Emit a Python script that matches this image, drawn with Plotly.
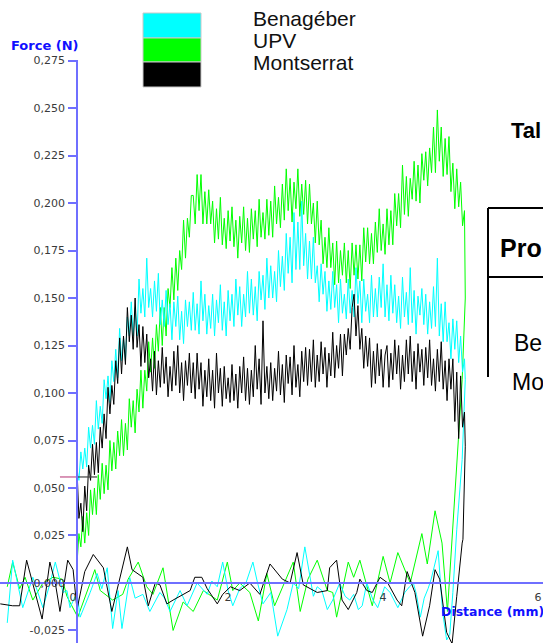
import plotly.graph_objects as go

# ---------------------------------------------------------------
# Penetration test: force (mN) sampled every STEP_MM along the stroke
# ---------------------------------------------------------------
STEP_MM = 0.025

benageber_push_mn = [
    60, 54, 69, 60, 71, 61, 82, 71, 83, 73, 96, 81, 93, 84, 107, 97, 109, 95, 117, 106,
    123, 108, 134, 117, 129, 117, 140, 130, 148, 130, 145, 130, 160, 142, 155, 140, 171, 145, 155, 140,
    159, 143, 163, 136, 149, 135, 154, 136, 147, 128, 148, 135, 151, 128, 143, 126, 149, 135, 148, 133,
    153, 133, 147, 131, 159, 138, 152, 131, 146, 134, 152, 130, 149, 137, 157, 133, 148, 130, 154, 138,
    152, 135, 160, 141, 156, 135, 152, 140, 164, 142, 160, 141, 156, 138, 164, 149, 162, 144, 171, 150,
    167, 150, 164, 148, 175, 156, 172, 154, 184, 163, 182, 158, 195, 165, 190, 165, 201, 167, 184, 160,
    180, 160, 182, 158, 167, 148, 168, 152, 164, 143, 159, 144, 164, 145, 157, 137, 160, 142, 152, 139,
    160, 142, 154, 140, 166, 147, 159, 137, 160, 143, 152, 137, 162, 140, 155, 140, 161, 145, 168, 140,
    157, 138, 162, 142, 157, 137, 151, 134, 161, 140, 153, 136, 166, 137, 154, 131, 151, 141, 155, 136,
    152, 131, 148, 134, 156, 135, 171, 130, 147, 127, 148, 127, 137, 118, 139, 123, 138, 116, 130, 111,
    118,
]

upv_push_mn = [
    10, 26, 19, 35, 21, 37, 25, 49, 36, 50, 36, 57, 44, 63, 47, 62, 49, 75, 59, 74,
    60, 80, 67, 86, 67, 84, 70, 97, 82, 96, 79, 102, 90, 112, 92, 112, 101, 127, 111, 129,
    113, 136, 122, 145, 125, 145, 130, 155, 145, 166, 149, 171, 154, 175, 165, 191, 171, 192, 182, 204,
    204, 189, 215, 196, 215, 189, 206, 189, 207, 189, 201, 179, 197, 181, 203, 178, 192, 176, 196, 180,
    198, 177, 191, 171, 193, 179, 198, 175, 192, 174, 197, 181, 196, 177, 202, 182, 195, 181, 202, 183,
    201, 182, 209, 189, 203, 187, 210, 191, 218, 196, 213, 190, 211, 197, 218, 193, 210, 194, 212, 189,
    210, 189, 200, 179, 201, 178, 191, 168, 182, 166, 187, 166, 179, 157, 180, 158, 175, 162, 179, 158,
    175, 155, 179, 162, 178, 160, 178, 159, 187, 169, 187, 168, 184, 168, 190, 174, 197, 175, 189, 173,
    197, 178, 196, 178, 205, 188, 205, 187, 220, 194, 214, 193, 213, 202, 222, 201, 220, 200, 226, 212,
    227, 209, 229, 216, 240, 216, 249, 222, 240, 214, 234, 215, 235, 206, 221, 197, 218, 198, 211, 188,
    196,
]

montserrat_push_mn = [
    60, 34, 42, 27, 51, 38, 62, 54, 73, 57, 74, 58, 82, 71, 89, 76, 103, 89, 104, 94,
    117, 105, 129, 110, 130, 115, 145, 127, 141, 123, 150, 124, 136, 114, 135, 116, 131, 108, 118, 101,
    122, 99, 117, 103, 124, 105, 119, 98, 114, 101, 122, 104, 125, 100, 116, 96, 117, 104, 121, 100,
    116, 97, 121, 102, 116, 93, 112, 98, 118, 96, 112, 92, 121, 100, 113, 93, 114, 97, 108, 95,
    115, 96, 110, 92, 114, 100, 119, 96, 113, 94, 112, 98, 125, 102, 118, 94, 138, 100, 114, 97,
    116, 96, 113, 101, 122, 99, 115, 95, 120, 105, 119, 99, 125, 103, 115, 98, 122, 106, 124, 104,
    123, 106, 128, 103, 120, 106, 127, 110, 124, 103, 121, 109, 132, 108, 125, 113, 131, 109, 131, 120,
    134, 123, 145, 152, 130, 146, 123, 134, 113, 130, 114, 129, 103, 122, 105, 126, 109, 123, 103, 120,
    125, 103, 121, 107, 128, 110, 125, 102, 120, 106, 128, 110, 130, 106, 122, 102, 126, 111, 123, 104,
    124, 108, 128, 104, 118, 101, 123, 106, 127, 102, 117, 96, 118, 102, 118, 85, 111, 76, 109, 82,
    90,
]

# ---------------------------------------------------------------
# Withdrawal: probe released and travelling back (distance mm, force mN)
# ---------------------------------------------------------------
benageber_back_mm = [
    5.01, 4.97, 4.90, 4.85, 4.81, 4.77, 4.72, 4.66, 4.62, 4.57, 4.53, 4.48, 4.43, 4.38, 4.34,
    4.29, 4.23, 4.18, 4.14, 4.09, 4.04, 3.97, 3.92, 3.88, 3.82, 3.74, 3.68, 3.63, 3.57, 3.52,
    3.46, 3.39, 3.30, 3.23, 3.16, 3.10, 3.05, 2.94, 2.86, 2.79, 2.71, 2.59, 2.50, 2.40, 2.33,
    2.27, 2.18, 2.10, 2.01, 1.95, 1.88, 1.81, 1.74, 1.68, 1.55, 1.42, 1.33, 1.20, 1.13, 1.07,
    0.94, 0.85, 0.75, 0.68, 0.58, 0.53, 0.46, 0.39, 0.32, 0.26, 0.17, 0.10, 0.04, 0.00, -0.09,
    -0.13, -0.18, -0.28, -0.36, -0.44, -0.57, -0.70, -0.83, -0.90,
]
benageber_back_mn = [
    107, 65, 28, -5, -27, -30, -16, 17, 10, 2, -3, -8, -18, -6, 0,
    -2, -5, -10, -13, -9, -5, -2, -8, -13, -9, 0, -12, -14, -6, -9,
    -7, 0, -9, -14, -4, -2, -7, 19, -3, 0, -14, -28, -5, -11, 0,
    11, 0, -3, -12, -4, 11, -2, 1, -6, 0, -12, -4, -15, -8, -5,
    -15, -6, -8, 3, -24, -4, -24, 8, -3, 5, -5, -12, -18, -5, -13,
    -4, -5, 11, -2, -13, 3, -13, 12, -21,
]

upv_back_mm = [
    5.01, 4.97, 4.90, 4.78, 4.71, 4.62, 4.52, 4.45, 4.30, 4.14, 4.04, 3.95, 3.81, 3.65, 3.57,
    3.50, 3.35, 3.30, 3.23, 3.10, 2.98, 2.88, 2.79, 2.71, 2.55, 2.45, 2.34, 2.23, 2.10, 2.01,
    1.94, 1.81, 1.63, 1.50, 1.37, 1.24, 1.11, 0.98, 0.90, 0.79, 0.66, 0.59, 0.46, 0.30, 0.23,
    0.17, 0.01, -0.13, -0.19, -0.31, -0.44, -0.57, -0.67, -0.74, -0.83, -0.90,
]
upv_back_mn = [
    150, 107, 63, -15, 21, 38, 10, 26, 0, 16, 0, 14, -12, 12, 3,
    11, -18, -5, -4, 12, 2, -15, 11, 3, -12, 5, -20, -5, 0, -4,
    11, -9, -4, -15, -10, -25, 8, -6, -2, 11, 2, -6, -9, -4, 7,
    0, -18, -7, 2, 3, 0, -9, 3, -3, 11, -2,
]

montserrat_back_mm = [
    5.01, 4.98, 4.97, 4.90, 4.84, 4.77, 4.68, 4.62, 4.55, 4.46, 4.36, 4.26, 4.19, 4.13, 4.01,
    3.91, 3.81, 3.74, 3.65, 3.61, 3.50, 3.42, 3.35, 3.26, 3.23, 3.10, 2.92, 2.84, 2.75, 2.65,
    2.49, 2.36, 2.23, 2.10, 1.98, 1.88, 1.81, 1.68, 1.61, 1.52, 1.46, 1.24, 1.16, 1.07, 1.01,
    0.92, 0.85, 0.71, 0.65, 0.45, 0.34, 0.21, 0.10, 0.00, -0.05, -0.12, -0.22, -0.28, -0.35, -0.45,
    -0.57, -0.65, -0.74, -0.83, -0.99,
]
montserrat_back_mn = [
    72, 23, 21, -7, -32, -26, 2, 7, -12, -28, -5, 6, -12, -9, 0,
    3, -5, -4, 2, -5, -14, -9, 12, 8, -4, -5, -1, 16, 0, 2,
    10, -6, 0, -4, -2, -6, -11, -3, 3, 3, -4, -9, -11, -1, 0,
    -12, 3, 7, 19, -15, 8, 15, 6, -14, 7, 12, -15, 0, 11, -19,
    0, 12, -12, -12, -11,
]

# cursor readout left on the trace start
cursor_mm = [-0.22, 0.0, 0.26]
cursor_force_n = 0.0558

series_names = ["Benagéber", "UPV", "Montserrat"]
series_colors = ["#00FFFF", "#00FF00", "#000000"]

y_tick_values = [-0.025, 0.0, 0.025, 0.05, 0.075, 0.1, 0.125, 0.15, 0.175, 0.2, 0.225, 0.25, 0.275]
y_tick_text = ["-0,025", "0,000", "0,025", "0,050", "0,075", "0,100", "0,125", "0,150",
               "0,175", "0,200", "0,225", "0,250", "0,275"]
x_tick_values = [0, 2, 4, 6]
x_tick_text = ["0", "2", "4", "6"]

# visible part of the neighbouring table (it runs on past the right edge)
table_title = "Tal"
table_header = "Pro"
table_rows = ["Be", "Mo"]

X_RANGE = [-0.9935, 6.013]
Y_RANGE = [-0.0316, 0.2753]

W, H, TOP = 543, 643, 60
AXIS_BLUE = "#6F6FFF"
TITLE_BLUE = "#1010FF"


def px_x(px):
    return px / W


def px_y(py):
    return (H - py) / (H - TOP)


def curve(push_mn, back_mm, back_mn):
    xs = [i * STEP_MM for i in range(len(push_mn))] + list(back_mm)
    ys = [v / 1000 for v in push_mn] + [v / 1000 for v in back_mn]
    return xs, ys


curves = {
    "UPV": curve(upv_push_mn, upv_back_mm, upv_back_mn),
    "Benagéber": curve(benageber_push_mn, benageber_back_mm, benageber_back_mn),
    "Montserrat": curve(montserrat_push_mn, montserrat_back_mm, montserrat_back_mn),
}

fig = go.Figure()
for name in ["UPV", "Benagéber", "Montserrat"]:
    xs, ys = curves[name]
    color = series_colors[series_names.index(name)]
    fig.add_trace(go.Scatter(x=xs, y=ys, mode="lines", name=name,
                             line=dict(color=color, width=1), hoverinfo="skip"))

fig.add_trace(go.Scatter(x=cursor_mm[:2], y=[cursor_force_n] * 2, mode="lines",
                         line=dict(color="#C05088", width=1.2), hoverinfo="skip"))
fig.add_trace(go.Scatter(x=cursor_mm[1:], y=[cursor_force_n] * 2, mode="lines",
                         line=dict(color="#404040", width=1.2), hoverinfo="skip"))

tick_font = dict(family="DejaVu Sans", size=11, color="#3A3A3A")

fig.update_layout(
    width=W, height=H,
    margin=dict(l=0, r=0, t=TOP, b=0),
    paper_bgcolor="white", plot_bgcolor="white",
    showlegend=False,
    font=dict(family="DejaVu Sans"),
    xaxis=dict(
        range=X_RANGE, anchor="free",
        position=(0 - Y_RANGE[0]) / (Y_RANGE[1] - Y_RANGE[0]),
        showline=True, linecolor=AXIS_BLUE, linewidth=1.5,
        ticks="", tickvals=x_tick_values, ticktext=x_tick_text,
        tickfont=tick_font, ticklabelshift=-4, ticklabelstandoff=4,
        showgrid=False, zeroline=False,
    ),
    yaxis=dict(
        range=Y_RANGE, anchor="free",
        position=(0 - X_RANGE[0]) / (X_RANGE[1] - X_RANGE[0]),
        showline=True, linecolor=AXIS_BLUE, linewidth=1.5,
        ticks="outside", ticklen=8, tickwidth=1.5, tickcolor=AXIS_BLUE,
        tickvals=y_tick_values, ticktext=y_tick_text,
        tickfont=tick_font, ticklabelstandoff=1,
        showgrid=False, zeroline=False,
    ),
)


def label(text, x, y, size, family="DejaVu Sans", color="black", xanchor="left"):
    fig.add_annotation(text=text, xref="paper", yref="paper",
                       x=px_x(x), y=px_y(y), xanchor=xanchor, yanchor="middle",
                       showarrow=False, borderpad=0,
                       font=dict(family=family, size=size, color=color))


# axis titles
label("<b>Force (N)</b>", 45, 45, 13, color=TITLE_BLUE, xanchor="center")
label("<b>Distance (mm)</b>", 440, 611, 12.5, color=TITLE_BLUE)

# colour key
key_tops = [13, 38, 62]
key_bottoms = [38, 62, 87]
key_text_y = [18, 40, 63]
for name, color, top, bottom, ty in zip(series_names, series_colors, key_tops, key_bottoms, key_text_y):
    fig.add_shape(type="rect", xref="paper", yref="paper",
                  x0=px_x(143), x1=px_x(201), y0=px_y(bottom), y1=px_y(top),
                  fillcolor=color, line=dict(color="#C8C8C8", width=1))
    label(name, 252, ty, 21, family="Liberation Sans", color="#111111")

# table beside the chart
table_line = dict(color="black", width=2)
fig.add_shape(type="line", xref="paper", yref="paper",
              x0=px_x(488), x1=px_x(545), y0=px_y(208), y1=px_y(208), line=table_line)
fig.add_shape(type="line", xref="paper", yref="paper",
              x0=px_x(488), x1=px_x(545), y0=px_y(277), y1=px_y(277), line=table_line)
fig.add_shape(type="line", xref="paper", yref="paper",
              x0=px_x(488), x1=px_x(488), y0=px_y(377), y1=px_y(208), line=table_line)

label("<b>" + table_title + "</b>", 510, 130, 22, family="Liberation Sans")
label("<b>" + table_header + "</b>", 499, 248, 25, family="Liberation Sans")
label(table_rows[0], 513, 343, 23, family="Liberation Sans")
label(table_rows[1], 511, 382, 23, family="Liberation Sans")

fig.write_html("out.html")
